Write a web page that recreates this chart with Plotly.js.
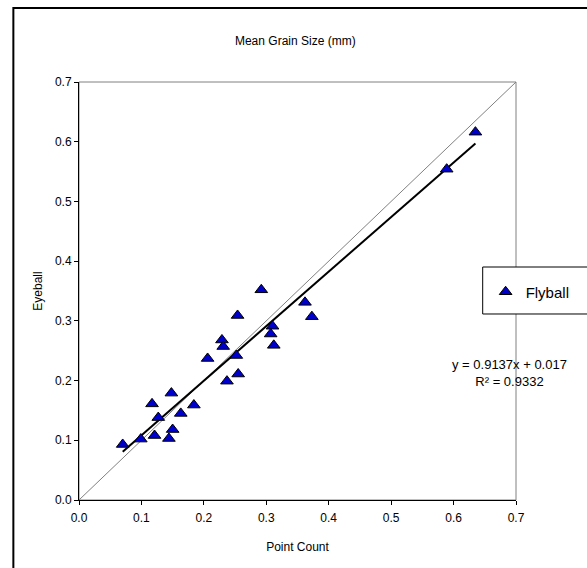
<!DOCTYPE html>
<html>
<head>
<meta charset="utf-8">
<script src="https://cdn.plot.ly/plotly-3.0.1.min.js"></script>
<style>html,body{margin:0;padding:0;background:#fff;}#chart{width:587px;height:568px;}</style>
</head>
<body>
<div id="chart"></div>
<script>
// Data
const pointCount = [0.070, 0.099, 0.121, 0.144, 0.150, 0.127, 0.117, 0.148, 0.163, 0.184, 0.206, 0.237, 0.255, 0.229, 0.231, 0.252, 0.254, 0.292, 0.310, 0.307, 0.312, 0.362, 0.373, 0.589, 0.635];
const eyeball    = [0.093, 0.102, 0.108, 0.103, 0.118, 0.138, 0.161, 0.179, 0.145, 0.159, 0.237, 0.199, 0.211, 0.268, 0.257, 0.242, 0.309, 0.352, 0.291, 0.278, 0.259, 0.331, 0.307, 0.554, 0.616];
const seriesName = "Flyball";
const trendSlope = 0.9137;
const trendIntercept = 0.017;
const trendR2 = 0.9332;
const oneToOne = [0, 0.7];
const tickVals = [0, 0.1, 0.2, 0.3, 0.4, 0.5, 0.6, 0.7];

const xMin = Math.min(...pointCount), xMax = Math.max(...pointCount);
const trendX = [xMin, xMax];
const trendY = trendX.map(x => trendSlope * x + trendIntercept);

const font = "Liberation Sans, Arial, sans-serif";

const traces = [
  {x: oneToOne, y: oneToOne, mode: 'lines', line: {color: '#808080', width: 1}, showlegend: false, hoverinfo: 'skip'},
  {x: trendX, y: trendY, mode: 'lines', line: {color: '#000000', width: 2}, showlegend: false, hoverinfo: 'skip'},
  {x: pointCount, y: eyeball, mode: 'markers', name: seriesName,
   marker: {symbol: 'triangle-up', size: 11, color: '#0000CC', line: {color: '#000000', width: 1}}}
];

const layout = {
  width: 587, height: 568,
  margin: {l: 79, r: 62, t: 82, b: 68, pad: 0},
  paper_bgcolor: '#ffffff', plot_bgcolor: '#ffffff',
  font: {family: font, size: 12, color: '#000000'},
  title: {text: 'Mean Grain Size (mm)', font: {family: font, size: 12, color: '#000'},
          xref: 'paper', x: 0.495, xanchor: 'center', yref: 'container', y: 1 - 41/568, yanchor: 'middle'},
  xaxis: {range: [0, 0.7], tickvals: tickVals, tickformat: '.1f', showgrid: false, zeroline: false,
          showline: true, linecolor: '#000', linewidth: 1, ticks: 'outside', ticklen: 4, tickcolor: '#000',
          ticklabelstandoff: 3,
          tickfont: {family: font, size: 12}, title: {text: 'Point Count', font: {family: font, size: 12}, standoff: 18}},
  yaxis: {range: [0, 0.7], tickvals: tickVals, tickformat: '.1f', showgrid: false, zeroline: false,
          showline: true, linecolor: '#000', linewidth: 1, ticks: 'outside', ticklen: 4, tickcolor: '#000',
          tickfont: {family: font, size: 12}, title: {text: 'Eyeball', font: {family: font, size: 12}, standoff: 9}},
  showlegend: true,
  legend: {x: 0.9305, xanchor: 'left', y: 0.4976, yanchor: 'middle', bgcolor: 'rgba(0,0,0,0)', borderwidth: 0,
           font: {family: font, size: 15}},
  shapes: [
    {type: 'rect', xref: 'paper', yref: 'paper', x0: 0, x1: 1, y0: 0, y1: 1, line: {color: '#808080', width: 1}, layer: 'below'},
    {type: 'rect', xref: 'paper', yref: 'paper', x0: -0.1502, x1: 1.3, y0: -0.3, y1: 1.177, line: {color: '#000', width: 2}, layer: 'below'},
    {type: 'rect', xref: 'paper', yref: 'paper', x0: 0.9238, x1: 1.3, y0: 0.445, y1: 0.5574, line: {color: '#000', width: 1}, fillcolor: '#ffffff', layer: 'above'}
  ],
  annotations: [
    {xref: 'paper', yref: 'paper', x: 0.9843, y: 0.3038, xanchor: 'center', yanchor: 'middle', showarrow: false, align: 'center',
     text: 'y = ' + trendSlope + 'x + ' + trendIntercept + '<br>R² = ' + trendR2, font: {family: font, size: 13, color: '#000'}}
  ]
};

Plotly.newPlot('chart', traces, layout, {staticPlot: true, displayModeBar: false});
</script>
</body>
</html>
